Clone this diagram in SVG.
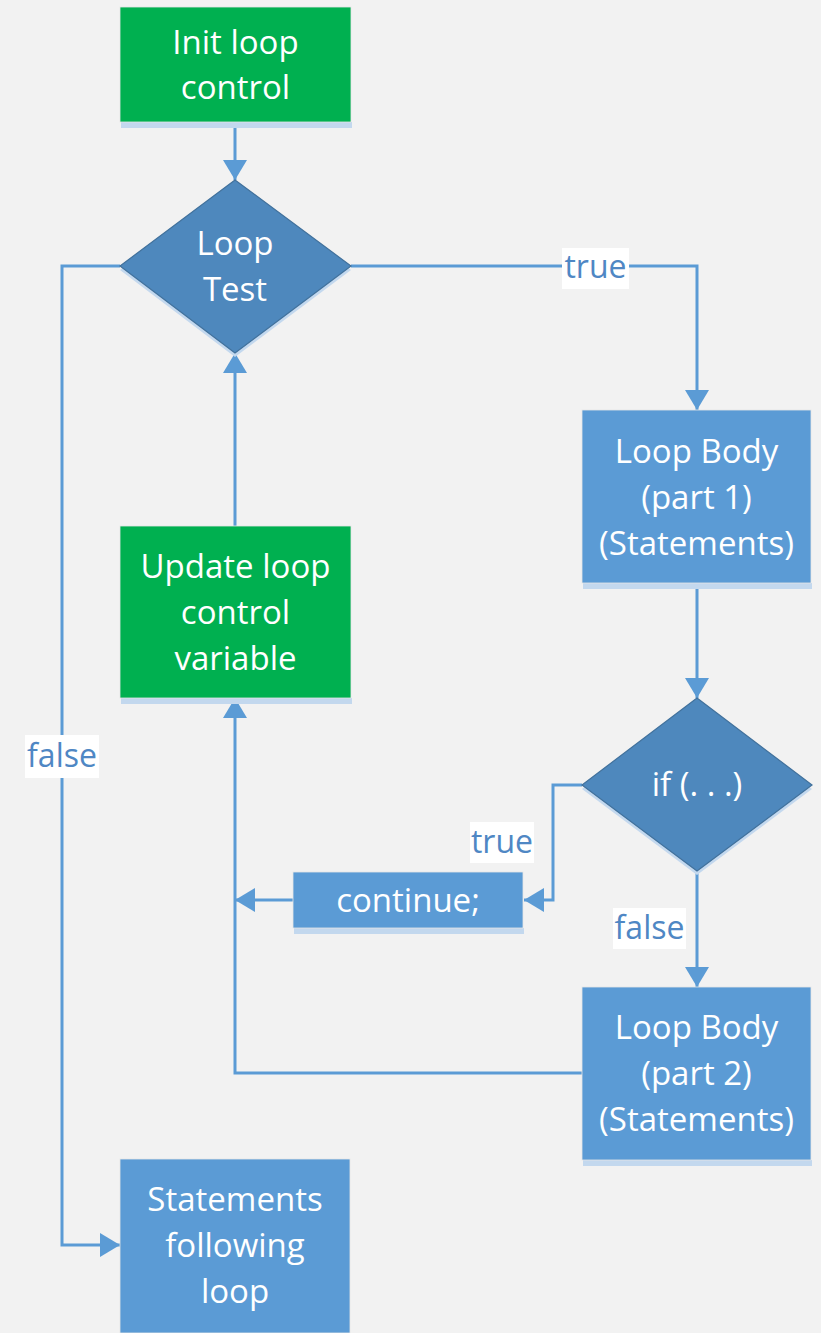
<svg xmlns="http://www.w3.org/2000/svg" width="821" height="1333" viewBox="0 0 821 1333">
<defs>
<style>
.bg{fill:#F2F2F2}
.green{fill:#00B050;stroke:#E6E6E6;stroke-width:0.8}
.blue{fill:#5B9BD5;stroke:#E6E6E6;stroke-width:0.8}
.dia{fill:#4E88BD;stroke:#41719C;stroke-width:1.2}
.sh{fill:#C3D8EE}
.t{font-family:"Open Sans",Lato,sans-serif;font-size:33px;fill:#FFFFFF;text-anchor:middle}
.lbl{font-family:"Open Sans",Lato,sans-serif;font-size:32px;fill:#4F87C4;text-anchor:middle}
.lb{fill:#FFFFFF}
.ln{fill:none;stroke:#5B9BD5;stroke-width:3}
</style>
<marker id="ah" viewBox="0 0 20 24" refX="20" refY="12" markerWidth="20" markerHeight="24" markerUnits="userSpaceOnUse" orient="auto">
<path d="M0,0 L20,12 L0,24 Z" fill="#5B9BD5"/>
</marker>
</defs>
<rect class="bg" x="0" y="0" width="821" height="1333"/>

<g id="connectors">
<path class="ln" d="M235,122 L235,180" marker-end="url(#ah)"/>
<path class="ln" d="M351,266 L697,266 L697,410" marker-end="url(#ah)"/>
<path class="ln" d="M697,583 L697,698" marker-end="url(#ah)"/>
<path class="ln" d="M582,785 L553,785 L553,900 L524,900" marker-end="url(#ah)"/>
<path class="ln" d="M293,900 L235,900" marker-end="url(#ah)"/>
<path class="ln" d="M697,871 L697,987" marker-end="url(#ah)"/>
<path class="ln" d="M582,1073 L235,1073 L235,698" marker-end="url(#ah)"/>
<path class="ln" d="M235,526 L235,353" marker-end="url(#ah)"/>
<path class="ln" d="M120,266 L62,266 L62,1245 L120,1245" marker-end="url(#ah)"/>
<rect class="lb" x="562" y="248" width="67" height="41"/>
<text class="lbl" x="595.5" y="278">true</text>
<rect class="lb" x="470" y="822" width="64" height="41"/>
<text class="lbl" x="502" y="853">true</text>
<rect class="lb" x="613" y="908" width="73" height="41"/>
<text class="lbl" x="649.5" y="939">false</text>
<rect class="lb" x="25" y="735" width="74" height="43"/>
<text class="lbl" x="62" y="767">false</text>
</g>

<g id="init">
<rect class="sh" x="121" y="122" width="231" height="6"/>
<rect class="green" x="120" y="7" width="231" height="115"/>
<text class="t" x="235.5" y="54">Init loop</text>
<text class="t" x="235.5" y="99">control</text>
</g>

<g id="looptest">
<polygon class="sh" points="235,184 351,270 235,357 120,270"/>
<polygon class="dia" points="235,180 351,266 235,353 120,266"/>
<text class="t" x="235" y="255">Loop</text>
<text class="t" x="235" y="301">Test</text>
</g>

<g id="body1">
<rect class="sh" x="583" y="583" width="229" height="6"/>
<rect class="blue" x="582" y="410" width="229" height="173"/>
<text class="t" x="696.5" y="463">Loop Body</text>
<text class="t" x="696.5" y="509">(part 1)</text>
<text class="t" x="696.5" y="555">(Statements)</text>
</g>

<g id="update">
<rect class="sh" x="121" y="698" width="231" height="6"/>
<rect class="green" x="120" y="526" width="231" height="172"/>
<text class="t" x="235.5" y="578">Update loop</text>
<text class="t" x="235.5" y="624">control</text>
<text class="t" x="235.5" y="670">variable</text>
</g>

<g id="iftest">
<polygon class="sh" points="697,702 812,789 697,875 582,789"/>
<polygon class="dia" points="697,698 812,785 697,871 582,785"/>
<text class="t" x="697" y="796">if (. . .)</text>
</g>

<g id="continue">
<rect class="sh" x="294" y="928" width="230" height="6"/>
<rect class="blue" x="293" y="872" width="230" height="56"/>
<text class="t" x="408" y="912">continue;</text>
</g>

<g id="body2">
<rect class="sh" x="583" y="1160" width="229" height="6"/>
<rect class="blue" x="582" y="987" width="229" height="173"/>
<text class="t" x="696.5" y="1039">Loop Body</text>
<text class="t" x="696.5" y="1085">(part 2)</text>
<text class="t" x="696.5" y="1131">(Statements)</text>
</g>

<g id="following">
<rect class="blue" x="120" y="1159" width="230" height="174"/>
<text class="t" x="235" y="1211">Statements</text>
<text class="t" x="235" y="1257">following</text>
<text class="t" x="235" y="1303">loop</text>
</g>
</svg>
